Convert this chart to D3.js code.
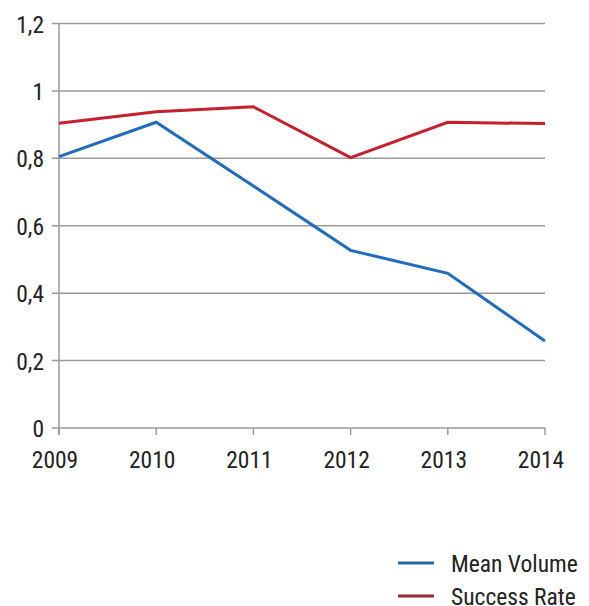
<!DOCTYPE html>
<html><head><meta charset="utf-8">
<script src="https://cdn.jsdelivr.net/npm/d3@7"></script>
<style>
html,body{margin:0;padding:0;background:#fff;}
text{font-family:"Roboto Condensed",Roboto,sans-serif;font-weight:400;fill:#222;}
</style></head>
<body><svg id="c" width="589" height="606"></svg>
<script>
const years = [2009, 2010, 2011, 2012, 2013, 2014];
const meanVolume = [0.805, 0.907, 0.718, 0.527, 0.459, 0.258];
const successRate = [0.904, 0.938, 0.953, 0.802, 0.907, 0.903];
const yTicks = [0, 0.2, 0.4, 0.6, 0.8, 1, 1.2];
const seriesNames = ["Mean Volume", "Success Rate"];
const seriesColors = ["#1f6cbf", "#c81f2e"];
const legendColors = ["#2a64a6", "#9e2a33"];

const svg = d3.select("#c");
const x = d3.scalePoint().domain(years).range([59, 545]);
const y = d3.scaleLinear().domain([0, 1.2]).range([428, 23.5]);
const fmt = v => String(v).replace(".", ",");

// gridlines
svg.append("g").selectAll("line").data(yTicks).join("line")
  .attr("x1", 52).attr("x2", 545)
  .attr("y1", d => y(d)).attr("y2", d => y(d))
  .attr("stroke", "#9a9a9a").attr("stroke-width", 1.5);

// y axis line
svg.append("line").attr("x1", 59).attr("x2", 59).attr("y1", y(1.2)).attr("y2", y(0) + 7)
  .attr("stroke", "#9a9a9a").attr("stroke-width", 1.5);

// x ticks
svg.append("g").selectAll("line").data(years).join("line")
  .attr("x1", d => x(d)).attr("x2", d => x(d))
  .attr("y1", y(0)).attr("y2", y(0) + 7)
  .attr("stroke", "#9a9a9a").attr("stroke-width", 1.5);

// y labels
svg.append("g").selectAll("text").data(yTicks).join("text")
  .attr("x", 44).attr("y", d => y(d) + 9)
  .attr("text-anchor", "end").attr("font-size", 23.5)
  .text(fmt);

// x labels
svg.append("g").selectAll("text").data(years).join("text")
  .attr("x", d => x(d) - 4).attr("y", 468)
  .attr("text-anchor", "middle").attr("font-size", 23.5)
  .text(d => d);

const line = d3.line().x((d, i) => x(years[i])).y(d => y(d));
[meanVolume, successRate].forEach((s, k) => {
  svg.append("path").datum(s).attr("d", line)
    .attr("fill", "none").attr("stroke", seriesColors[k]).attr("stroke-width", 3)
    .attr("stroke-linejoin", "miter");
});

// legend
const lg = svg.append("g");
seriesNames.forEach((n, k) => {
  const ly = 563 + k * 33;
  lg.append("line").attr("x1", 398).attr("x2", 434).attr("y1", ly).attr("y2", ly)
    .attr("stroke", legendColors[k]).attr("stroke-width", 3);
  lg.append("text").attr("x", 451).attr("y", ly + 9).attr("font-size", 23.5).text(n);
});
</script></body></html>
